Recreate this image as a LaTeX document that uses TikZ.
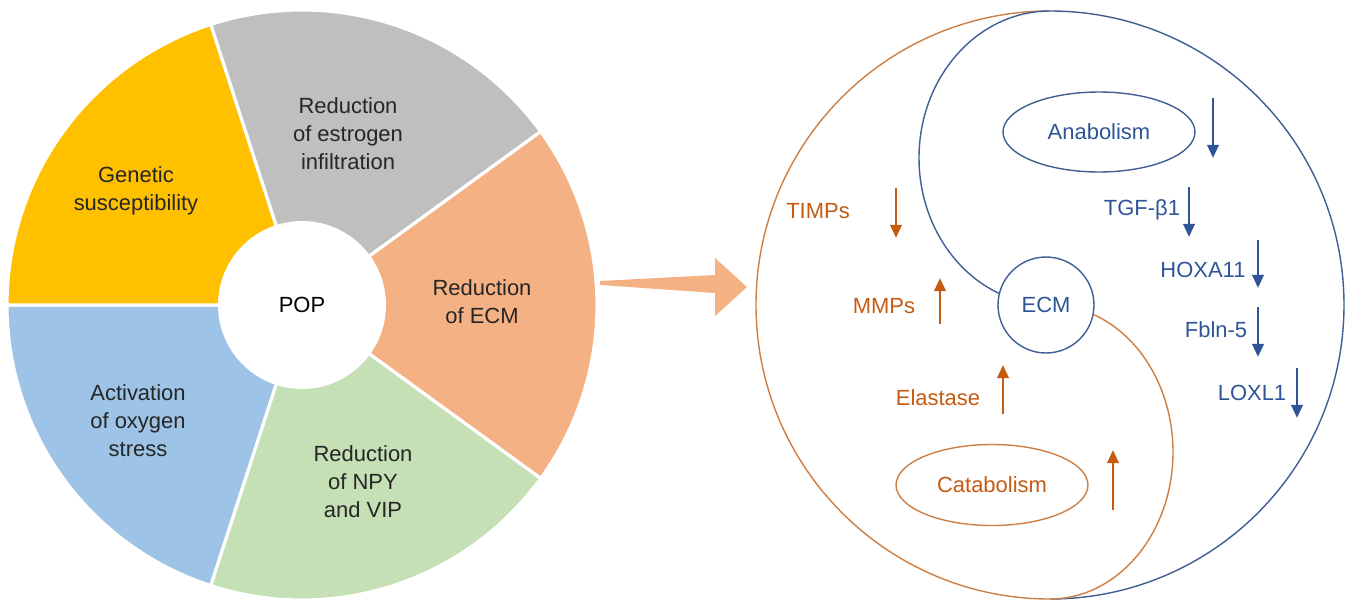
\documentclass[tikz,border=0pt]{standalone}
\usepackage{fontspec}
\setmainfont{Liberation Sans}
\usepackage{xcolor}
\usepackage{tikz}
\usetikzlibrary{arrows.meta, shapes.geometric, calc}
\definecolor{segyellow}{HTML}{FFC000}
\definecolor{seggray}{HTML}{BFBFBF}
\definecolor{segorange}{HTML}{F4B183}
\definecolor{seggreen}{HTML}{C5E0B4}
\definecolor{segblue}{HTML}{9DC3E6}
\definecolor{catorange}{HTML}{C55A11}
\definecolor{catline}{HTML}{CC7F45}
\definecolor{anablue}{HTML}{2F5597}
\definecolor{analine}{HTML}{3F5E96}

\begin{document}
\begin{tikzpicture}[x=0.02cm,y=0.02cm,font=\fontsize{12.5}{15.9}\selectfont,
    seg/.style={draw=white,line width=1.8pt},
    lbl/.style={align=center,text=black!85},
    blueline/.style={draw=analine,line width=0.8pt},
    orangeline/.style={draw=catline,line width=0.8pt},
    arr/.style={-{Triangle[length=7.5pt,width=6.5pt]},#1,line width=1.5pt}]
  \useasboundingbox (0,0) rectangle (1350,600);
  % pie of causes
  \coordinate (pie) at (302,295);
  \foreach \a/\b/\c in {180/252/segblue,108/180/segyellow,36/108/seggray,
      -36/36/segorange,-108/-36/seggreen}
    \filldraw[seg,fill=\c] (pie) -- ++(\a:295) arc[start angle=\a,end angle=\b,radius=295] -- cycle;
  \node[circle,fill=white,minimum size=3.36cm,inner sep=0pt] (pop) at (pie) {POP};
  \node[lbl] (estrogen) at (348,466) {Reduction\\of estrogen\\infiltration};
  \node[lbl] (genetic) at (136,409) {Genetic\\susceptibility};
  \node[lbl] (redecm) at (482,298) {Reduction\\of ECM};
  \node[lbl] (oxygen) at (138,179) {Activation\\of oxygen\\stress};
  \node[lbl] (npy) at (363,118) {Reduction\\of NPY\\and VIP};
  % big arrow
  \fill[segorange] (600,319) -- (715,325) -- (715,342) -- (747,313)
    -- (715,284) -- (715,307) -- (600,315) -- cycle;
  % yin-yang of ECM
  \coordinate (yytop) at (1050,589);
  \coordinate (yybot) at (1050,1);
  \draw[orangeline] (yytop) arc[start angle=90,end angle=270,radius=294];
  \draw[blueline] (yytop) arc[start angle=90,end angle=-90,radius=294];
  \draw[blueline] (yytop) arc[start angle=90,end angle=247,x radius=131,y radius=147];
  \draw[orangeline] (yybot) arc[start angle=-90,end angle=69,x radius=123,y radius=147];
  \node[circle,blueline,fill=white,minimum size=1.92cm,text=anablue] (ecm) at (1046,295) {ECM};
  \node[ellipse,blueline,minimum width=3.84cm,minimum height=1.6cm,text=anablue] (anab) at (1099,468) {Anabolism};
  \node[ellipse,orangeline,minimum width=3.84cm,minimum height=1.62cm,text=catorange] (catab) at (992,115) {Catabolism};
  % markers
  \node[text=catorange] (timps) at (818,389) {TIMPs};
  \node[text=catorange] (mmps) at (884,294) {MMPs};
  \node[text=catorange] (elastase) at (938,202) {Elastase};
  \node[text=anablue] (tgf) at (1142,390) {TGF-β1};
  \node[text=anablue] (hoxa) at (1203,330) {HOXA11};
  \node[text=anablue] (fbln) at (1216,270) {Fbln-5};
  \node[text=anablue] (loxl) at (1252,207) {LOXL1};
  \foreach \x/\y/\l in {1213/502/60,1189/413/50,1258/360/48,1258/293/50,1297/232/50}
    \draw[arr=anablue] (\x,\y) -- ++(0,-\l);
  \draw[arr=catorange] (896,412) -- ++(0,-50);
  \foreach \x/\y/\l in {940/276/46,1003/186/49,1113/90/60}
    \draw[arr=catorange] (\x,\y) -- ++(0,\l);
\end{tikzpicture}
\end{document}
